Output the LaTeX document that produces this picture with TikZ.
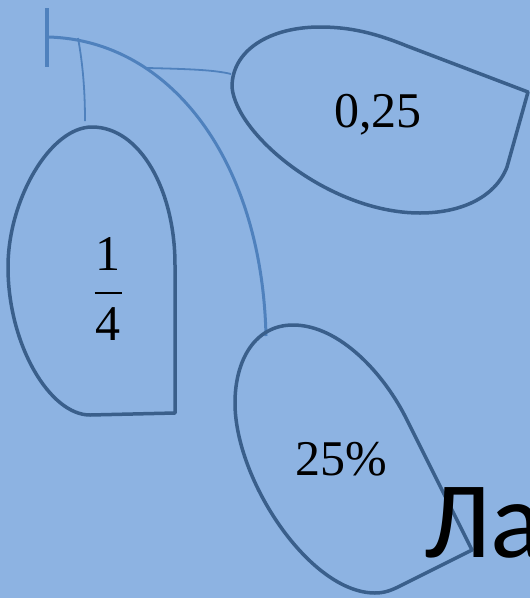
\documentclass[tikz,border=0pt]{standalone}
\usepackage{fontspec}
\setmainfont{Liberation Serif}
\newfontfamily\wordfont{Carlito}
\definecolor{LBack}{HTML}{8DB3E2}
\definecolor{LEdge}{HTML}{3A5F8B}
\definecolor{LStem}{HTML}{4F81BD}
\begin{document}
\begin{tikzpicture}[
  x=1pt,y=-1pt,
  leaf/.style={draw=LEdge,line width=3.5pt,line join=round},
  stem/.style={draw=LStem,line width=3pt},
  twig/.style={draw=LStem,line width=1.8pt},
  num/.style={font=\fontsize{50}{56}\selectfont,inner sep=0pt}
]
  \fill[LBack] (0,0) rectangle (530,598);
  \useasboundingbox (0,0) rectangle (530,598);
  % stem and twigs
  \draw[stem,line width=4pt] (47,8) -- (47,67);
  \draw[stem] (48,37) .. controls (170,40) and (262,160) .. (266,336);
  \draw[twig] (78,38) .. controls (84,70) and (85,100) .. (85,121);
  \draw[twig] (147,68) .. controls (190,69) and (215,70) .. (231,74);
  % leaves
  \draw[leaf] (175,413) -- (175,265) .. controls (175,190) and (140,127) .. (92,127)
    .. controls (50,127) and (8,200) .. (8,267)
    .. controls (8,345) and (50,415) .. (90,415) -- cycle;
  \draw[leaf] (528,92) -- (407,46) .. controls (375,33) and (350,27) .. (320,27)
    .. controls (270,27) and (232,50) .. (232,87)
    .. controls (236,135) and (330,213) .. (420,213)
    .. controls (460,213) and (495,198) .. (507,167) -- cycle;
  \draw[leaf] (472,550) -- (407,420) .. controls (385,375) and (340,325) .. (293,325)
    .. controls (255,325) and (235,360) .. (235,403)
    .. controls (235,480) and (310,593) .. (375,593)
    .. controls (385,593) and (392,590) .. (400,586) -- cycle;
  % labels
  \node[num,anchor=base] (one) at (108,270) {1};
  \node[num,anchor=base] (four) at (108,340) {4};
  \draw[line width=2.4pt] ([xshift=-13.5pt]one.base |- 0,293) -- ([xshift=13.5pt]one.base |- 0,293);
  \node[num,anchor=base] (decimal) at (378,127) {0,25};
  \node[num,anchor=base] (percent) at (341,475) {25\%};
  \node[anchor=base west,inner sep=0pt,font=\wordfont\fontsize{109}{120}\selectfont]
    (word) at (424,557) {Ла};
\end{tikzpicture}
\end{document}
